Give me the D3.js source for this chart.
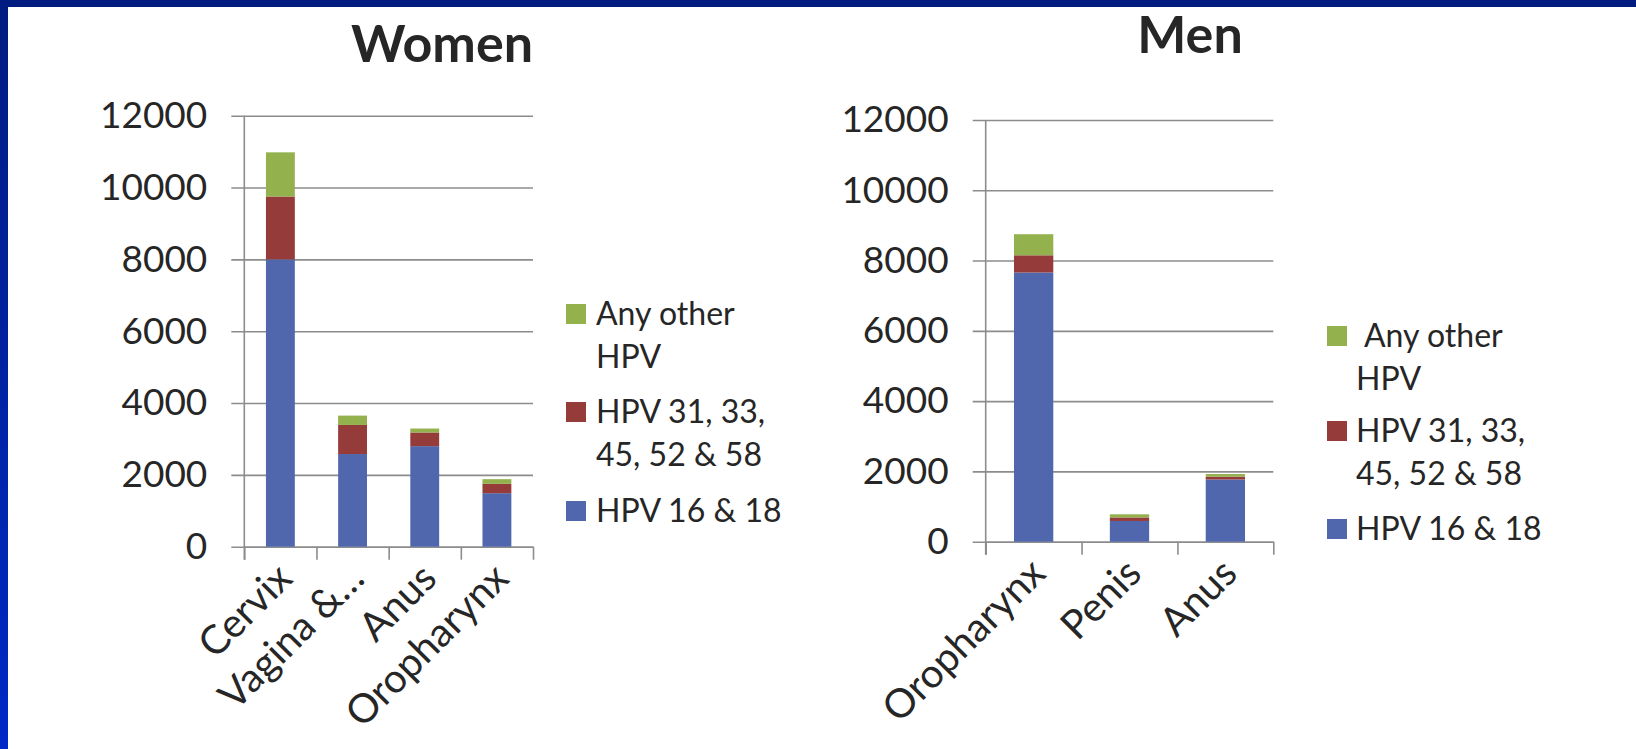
<!DOCTYPE html>
<html>
<head>
<meta charset="utf-8">
<script src="https://cdn.jsdelivr.net/npm/d3@7"></script>
<style>
  body { margin: 0; background: #fff; }
  text { font-family: Lato, "Open Sans", sans-serif; fill: #262626; }
</style>
</head>
<body>
<svg width="1636" height="749"></svg>
<script>
// values
var womenCategories = ["Cervix", "Vagina &\u2026", "Anus", "Oropharynx"];
var womenHpv1618 = [8000, 2580, 2800, 1490];
var womenHpv3133 = [1750, 810, 380, 260];
var womenOther = [1230, 260, 110, 130];

var menCategories = ["Oropharynx", "Penis", "Anus"];
var menHpv1618 = [7660, 590, 1770];
var menHpv3133 = [490, 100, 80];
var menOther = [600, 90, 75];

var seriesKeys = ["hpv1618", "hpv3133", "other"];
var seriesColors = ["#5167ad", "#953b3a", "#93b14d"];
// legend is listed top-down: other, 31/33.., 16/18
var legendLines = [["Any other", "HPV"], ["HPV 31, 33,", "45, 52 & 58"], ["HPV 16 & 18"]];
var legendKeys = ["other", "hpv3133", "hpv1618"];
var yTicks = [0, 2000, 4000, 6000, 8000, 10000, 12000];

var svg = d3.select("svg");

// slide frame
var grad = svg.append("defs").append("linearGradient")
    .attr("id", "edge").attr("x1", 0).attr("y1", 0).attr("x2", 0).attr("y2", 1);
grad.append("stop").attr("offset", 0).attr("stop-color", "#001c80");
grad.append("stop").attr("offset", 1).attr("stop-color", "#0029c6");
svg.append("rect").attr("width", 1636).attr("height", 749).attr("fill", "#fff");
svg.append("rect").attr("width", 1636).attr("height", 7).attr("fill", "#001c80");
svg.append("rect").attr("width", 8).attr("height", 749).attr("fill", "url(#edge)");

function drawChart(c) {
    var rows = c.categories.map(function(cat, i) {
        return { cat: cat, hpv1618: c.a[i], hpv3133: c.b[i], other: c.o[i] };
    });

    var x = d3.scaleBand().domain(c.categories).range([c.x0, c.x1]);
    var xEdge = d3.scaleLinear().domain([0, c.categories.length]).range([c.x0, c.x1]);
    var y = d3.scaleLinear().domain([0, 12000]).range([c.y0, c.y1]);

    var g = svg.append("g");

    // gridlines + y labels
    g.append("g")
        .attr("transform", "translate(" + (c.x0 - 13) + ",0)")
        .call(d3.axisLeft(y).tickValues(yTicks).tickFormat(d3.format("d"))
            .tickSize(-(c.x1 - c.x0 + 13)).tickPadding(24))
        .call(function(a) {
            a.select(".domain").remove();
            a.selectAll("line").attr("stroke", "#8c8c8c").attr("stroke-width", 1.6);
            a.selectAll("text").attr("font-size", 37).attr("fill", "#262626")
                .style("font-family", "Lato, sans-serif");
        });

    // vertical axis line
    g.append("line")
        .attr("x1", c.x0).attr("x2", c.x0)
        .attr("y1", y(12000)).attr("y2", y(0) + 13)
        .attr("stroke", "#8c8c8c").attr("stroke-width", 1.6);

    // category axis ticks at band edges
    g.append("g")
        .attr("transform", "translate(0," + y(0) + ")")
        .call(d3.axisBottom(xEdge).tickValues(d3.range(c.categories.length + 1)).tickSize(13).tickSizeOuter(0).tickFormat(""))
        .call(function(a) {
            a.select(".domain").attr("stroke", "#8c8c8c").attr("stroke-width", 1.6);
            a.selectAll("line").attr("stroke", "#8c8c8c").attr("stroke-width", 1.6);
        });

    // rotated category labels
    g.append("g")
        .attr("transform", "translate(0," + y(0) + ")")
        .call(d3.axisBottom(x).tickSize(0))
        .call(function(a) {
            a.select(".domain").remove();
            a.selectAll("text")
                .attr("x", 0).attr("y", 0).attr("dy", 0)
                .attr("text-anchor", "end")
                .attr("font-size", 40).attr("fill", "#262626")
                .style("font-family", "Lato, sans-serif")
                .attr("transform", "translate(14,34) rotate(-45)");
        });

    // stacked bars
    var stacked = d3.stack().keys(seriesKeys)(rows);
    var bw = x.bandwidth() * c.barRatio;
    g.selectAll(".layer")
        .data(stacked)
        .enter().append("g")
        .attr("fill", function(d, i) { return seriesColors[i]; })
        .selectAll("rect")
        .data(function(d) { return d; })
        .enter().append("rect")
        .attr("x", function(d) { return x(d.data.cat) + (x.bandwidth() - bw) / 2; })
        .attr("y", function(d) { return y(d[1]); })
        .attr("width", bw)
        .attr("height", function(d) { return y(d[0]) - y(d[1]); });

    // title
    svg.append("text")
        .attr("x", c.titleX).attr("y", c.titleY)
        .attr("text-anchor", "middle")
        .attr("font-size", 52).attr("font-weight", "bold").attr("fill", "#000")
        .text(c.title);

    // legend
    var leg = svg.append("g");
    legendKeys.forEach(function(k, i) {
        var cy = c.legendY[i];
        leg.append("rect")
            .attr("x", c.legendX).attr("y", cy - 10)
            .attr("width", 20).attr("height", 20)
            .attr("fill", seriesColors[seriesKeys.indexOf(k)]);
        legendLines[i].forEach(function(line, j) {
            leg.append("text")
                .attr("x", c.legendX + c.legendGap + (i === 0 && j === 0 ? c.firstIndent : 0))
                .attr("y", cy + 11 + j * 43)
                .attr("font-size", 32)
                .text(line);
        });
    });
}

drawChart({
    title: "Women", titleX: 442, titleY: 62,
    categories: womenCategories, a: womenHpv1618, b: womenHpv3133, o: womenOther,
    x0: 244.3, x1: 533, y0: 546.7, y1: 115.7, barRatio: 0.4,
    legendX: 566, legendGap: 30, firstIndent: 0, legendY: [314, 412, 511]
});

drawChart({
    title: "Men", titleX: 1190, titleY: 53,
    categories: menCategories, a: menHpv1618, b: menHpv3133, o: menOther,
    x0: 985.7, x1: 1273.3, y0: 541.7, y1: 120, barRatio: 0.41,
    legendX: 1327, legendGap: 29, firstIndent: 8, legendY: [336, 431, 529]
});
</script>
</body>
</html>
